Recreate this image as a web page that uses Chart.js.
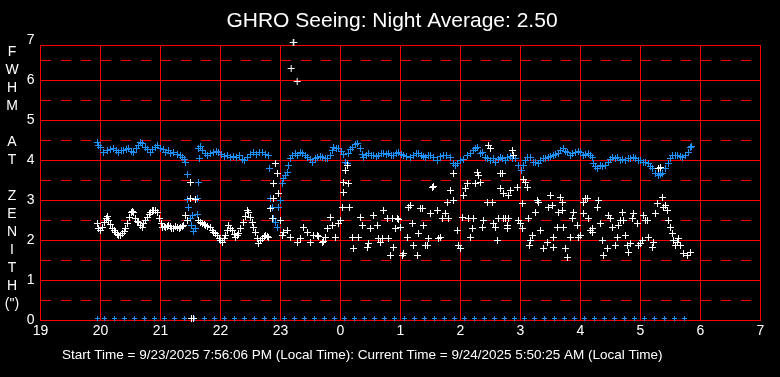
<!DOCTYPE html>
<html><head><meta charset="utf-8">
<script src="https://cdn.jsdelivr.net/npm/chart.js@4"></script>
<style>html,body{margin:0;padding:0;background:#000;overflow:hidden}</style>
</head><body>
<canvas id="c" width="780" height="377" style="display:block;width:780px;height:377px"></canvas>
<script>
const TITLE = 'GHRO Seeing: Night Average: 2.50';
const FOOTER = 'Start Time = 9/23/2025 7:56:06 PM (Local Time): Current Time = 9/24/2025 5:50:25 AM (Local Time)';
const yAxisLetters = ['F','W','H','M','','A','T','','Z','E','N','I','T','H','(")'];
const hourTicks = [19,20,21,22,23,0,1,2,3,4,5,6,7];
const yTicks = [0,1,2,3,4,5,6,7];
const yHalfTicks = [0.5,1.5,2.5,3.5,4.5,5.5,6.5];

// [minutes after 19:00, FWHM arcsec]
const whiteSeeing = [[57,2.42],[58,2.3],[60,2.25],[62,2.33],[64,2.45],[66,2.55],[67,2.6],[68,2.5],[70,2.4],[72,2.3],[74,2.25],[75,2.2],[77,2.15],[78,2.13],[80,2.12],[82,2.17],[84,2.22],[85,2.3],[87,2.42],[89,2.58],[91,2.7],[92,2.73],[93,2.7],[95,2.55],[97,2.48],[98,2.45],[100,2.38],[102,2.33],[103,2.42],[105,2.5],[107,2.58],[109,2.66],[110,2.7],[112,2.74],[113,2.75],[115,2.74],[117,2.7],[119,2.55],[121,2.42],[122,2.33],[124,2.35],[125,2.33],[127,2.36],[128,2.37],[130,2.35],[131,2.3],[133,2.3],[135,2.35],[137,2.33],[139,2.3],[140,2.33],[142,2.36],[143,2.37],[145,2.63],[147,2.5],[150,3.04],[150,3.45],[151,0.05],[153,0.05],[155,3.02],[158,2.5],[160,2.45],[162,2.42],[164,2.4],[165,2.37],[167,2.36],[170,2.33],[172,2.25],[173,2.2],[175,2.17],[177,2.13],[179,2.05],[180,2.0],[182,1.96],[184,2.05],[185,2.13],[187,2.25],[188,2.37],[190,2.3],[192,2.25],[194,2.15],[195,2.08],[197,2.12],[198,2.17],[200,2.3],[203,2.45],[205,2.6],[207,2.75],[208,2.7],[210,2.58],[212,2.45],[213,2.33],[215,2.2],[217,2.05],[218,1.92],[220,2.0],[222,2.04],[224,2.1],[225,2.13],[227,2.1],[228,2.08],
[230,2.8],[232,2.55],[233,3.04],[233,3.42],[235,3.92],[237,3.67],[238,3.17],[240,2.5],[242,2.13],[243,2.2],[247,2.25],[250,2.08],[250.7,6.31],[252.7,6.94],[253.3,6.94],[256.7,5.97],[257,1.96],[260,2.04],[263,2.33],[267,2.2],[270,1.96],[273,2.13],[277,2.13],[278,2.1],[282,1.96],[283,1.98],[285,2.08],[287,2.3],[290,2.58],[292,2.37],[295,2.08],[298,2.42],[300,2.5],[302,2.83],[303,3.45],[303,3.2],[305,3.75],[307,3.88],[308,3.42],[309,2.83],[312,2.08],[313,1.79],[318,2.08],[320,2.58],[322,2.37],[327,1.83],[328,1.92],[330,2.3],[333,2.63],[337,2.37],[338,2.04],[340,1.96],[342,2.04],[343,2.75],[347,2.55],[348,2.04],
[350,1.63],[352,2.55],[353,1.83],[355,2.3],[357,2.55],[358,2.53],[360,2.33],[362,1.63],[363,1.67],[367,2.08],[368,2.83],[370,2.88],[372,2.42],[373,1.88],[377,1.63],[378,2.17],[380,2.8],[382,2.8],[383,2.37],[385,1.88],[387,1.88],[388,2.04],[390,2.67],[392,3.33],[393,3.35],[397,2.75],[398,2.04],[400,2.08],[402,2.55],[405,2.67],[407,2.96],[408,2.55],[410,3.25],[413,3.67],[413,3.0],[417,2.25],[418,1.88],[420,1.79],[422,2.58],[423,3.13],[425,3.29],[427,3.42],[428,2.55],[430,2.08],[432,2.3],[433,2.55],[435,3.42],[437,3.71],[438,3.63],[440,3.46],[442,2.33],[443,2.5],[447,2.96],[448,4.38],[450,4.29],[452,2.96],[453,2.42],[455,2.33],[457,2.0],[458,2.55],[460,3.67],[460,3.29],[462,3.67],[463,2.55],[463,3.17],[465,2.55],[467,2.37],[467,2.3],[468,3.13],[468,2.55],[470,3.25],[472,4.25],[473,4.13],[477,3.33],[478,2.5],[480,2.42],[482,2.92],[482,2.3],[483,3.52],[485,3.46],[487,3.33],[488,2.55],[489,1.88],[490,2.0],[492,2.13],[495,2.7],[497,3.0],[498,2.96],[500,2.25],[503,1.79],[507,1.96],[508,2.83],[510,3.13],[512,2.88],[513,2.08],[513,1.83],[517,2.33],[518,2.7],[520,3.08],[522,2.96],[522,2.75],[523,2.33],[525,1.79],[527,1.58],[530,2.08],[532,2.55],[533,2.7],[537,2.37],[538,2.08],[540,2.13],[543,2.96],[545,3.04],[547,3.04],[543,2.67],[548,2.55],[550,2.25],[552,2.3],[552,2.2],[557,2.83],[558,3.0],[560,2.42],[562,2.0],[563,1.63],[567,1.79],[568,2.63],[570,2.55],[572,2.33],[575,1.88],[577,2.08],[578,2.37],[580,2.5],[582,2.7],[583,2.5],[585,2.13],[587,1.88],[588,1.71],[590,1.92],[592,2.55],[593,2.67],[597,2.42],[598,1.88],[600,1.92],[602,2.0],[603,2.63],[605,2.5],[607,2.5],[608,2.08],[612,1.83],[613,1.96],[615,2.67],[617,2.92],[618,3.79],[620,3.83],[622,3.08],[623,2.83],[625,2.88],[627,2.75],[628,2.5],[630,2.33],[632,2.17],[633,2.0],[635,1.88],[637,1.96],[638,2.04],[640,1.88],[643,1.67],[647,1.63],[650,1.71]];

const blueSeeing = [[57,4.46],[58,4.38],[60,4.33],[63,4.21],[67,4.25],[70,4.28],[73,4.29],[76,4.25],[78,4.21],[81,4.26],[83,4.25],[86,4.28],[88,4.29],[91,4.22],[93,4.2],[96,4.3],[98,4.38],[100,4.46],[102,4.42],[105,4.33],[107,4.27],[110,4.21],[112,4.27],[115,4.33],[117,4.37],[120,4.31],[123,4.28],[125,4.21],[128,4.24],[130,4.18],[133,4.2],[137,4.15],[140,4.12],[142,4.08],[144,4.02],[145,3.96],
[147,3.64],[147,3.02],[148,2.83],[150,2.55],[151,2.37],[152,2.63],[153,2.22],[155,2.3],[157,2.65],[157,3.04],[158,3.45],
[158,4.29],[159,4.05],[160,4.35],[162,4.25],[165,4.18],[167,4.13],[170,4.17],[173,4.2],[176,4.22],[178,4.2],[181,4.15],[184,4.1],[187,4.12],[190,4.08],[193,4.1],[196,4.07],[199,4.12],[202,4.03],[204,4.0],[207,4.08],[210,4.15],[213,4.2],[216,4.16],[219,4.19],[222,4.2],[225,4.14],[228,4.13],
[229,3.81],[230,3.04],[232,2.83],[233,2.55],[235,2.45],[237,2.33],[238,2.83],[240,3.0],
[242,3.42],[243,3.54],[245,3.62],[247,3.71],[248,3.88],[250,4.04],[252,4.13],[255,4.17],[257,4.13],[260,4.2],[262,4.17],[265,4.12],[267,4.08],[270,4.02],[272,3.96],[275,4.05],[277,4.08],[280,4.1],[282,4.08],[285,4.06],[287,4.04],[290,4.13],[292,4.25],[293,4.33],[296,4.31],[298,4.29],[301,4.22],[303,4.15],[305,3.96],[307,3.92],[308,4.17],[310,4.27],[312,4.33],[315,4.4],[317,4.42],[320,4.29],[322,4.15],[323,4.08],[326,4.13],[328,4.17],[331,4.12],[333,4.13],[336,4.1],[338,4.13],[341,4.17],[343,4.17],[346,4.14],[348,4.17],[351,4.13],[353,4.13],[356,4.18],[358,4.21],[361,4.15],[363,4.13],[366,4.1],[370,4.08],[373,4.12],[376,4.17],[378,4.17],[381,4.12],[383,4.1],[385,4.08],[388,4.13],[390,4.13],[393,4.08],[397,4.0],[400,4.1],[403,4.13],[406,4.12],[410,4.08],[413,3.92],[415,3.88],[417,3.92],[420,4.0],[423,4.03],[427,4.13],[430,4.17],[433,4.25],[435,4.3],[437,4.33],[440,4.17],[442,4.21],[445,4.08],[447,4.04],[450,4.0],[453,4.04],[455,3.96],[458,4.02],[460,4.08],[462,4.05],[465,4.0],[467,4.08],[470,4.1],[472,4.06],[475,4.04],[478,3.88],[481,3.75],[483,3.88],[485,4.0],[487,4.08],[490,4.08],[493,3.96],[495,3.94],[498,3.92],[500,4.0],[503,4.04],[505,4.05],[508,4.08],[510,4.1],[513,4.13],[515,4.15],[518,4.17],[520,4.25],[523,4.29],[525,4.22],[527,4.21],[530,4.13],[532,4.18],[535,4.21],[538,4.23],[540,4.2],[543,4.13],[545,4.15],[548,4.17],[550,4.12],[552,4.08],[553,3.92],[555,3.85],[557,3.79],[560,3.88],[562,3.86],[565,3.88],[568,3.96],[570,4.02],[572,4.08],[575,4.06],[577,4.08],[580,4.0],[582,4.03],[585,4.0],[588,4.05],[590,4.04],[593,4.08],[595,4.05],[598,4.0],[600,4.0],[603,3.96],[605,3.95],[608,3.92],[610,3.85],[612,3.79],[615,3.67],[618,3.63],[620,3.65],[622,3.67],[625,3.79],[628,3.92],[630,4.05],[632,4.13],[635,4.13],[637,4.13],[640,4.1],[642,4.08],[645,4.13],[648,4.21],[650,4.33],[651,4.35]];

const zeroMarkMinutes = [57,64,74,84,94,104,114,124,134,144,154,164,174,184,194,204,214,224,234,244,254,264,274,284,294,304,314,324,334,344,354,364,374,384,394,404,414,424,434,444,454,464,474,484,494,504,514,524,534,544,554,564,574,584,594,604,614,624,634,644];
const zeroMarkValue = 0.05;

const FONT = '"Liberation Sans", Arial, sans-serif';
const RED = '#ff0000';
const BLUE = '#1e90ff';
// snap a reading to the 1-pixel resolution of the original plot (1/40 of an arcsec)
const snap = v => Math.round(v * 40) / 40;

const textPlugin = {
  id: 'texts',
  beforeDraw(chart) {
    const c = chart.ctx; c.save(); c.fillStyle = '#000'; c.fillRect(0, 0, chart.width, chart.height); c.restore();
  },
  afterDraw(chart) {
    const c = chart.ctx; c.save(); c.fillStyle = '#fff'; c.textBaseline = 'middle';
    c.font = '21px ' + FONT; c.textAlign = 'center';
    c.fillText(TITLE, 392, 21);
    c.font = '13.5px ' + FONT; c.textAlign = 'left';
    c.fillText(FOOTER, 62, 355);
    c.font = '14px ' + FONT; c.textAlign = 'center';
    yAxisLetters.forEach((t, i) => c.fillText(t, 12, 52 + i * 18));
    c.restore();
  }
};

new Chart(document.getElementById('c'), {
  type: 'scatter',
  data: {
    datasets: [
      { data: whiteSeeing.map(p => ({x: p[0], y: snap(p[1])})), pointStyle: 'cross', radius: 3.5, borderColor: '#fff', backgroundColor: '#fff', borderWidth: 1, clip: false },
      { data: blueSeeing.map(p => ({x: p[0], y: snap(p[1])})), pointStyle: 'cross', radius: 3.5, borderColor: BLUE, backgroundColor: BLUE, borderWidth: 1, clip: false },
      { data: zeroMarkMinutes.map(m => ({x: m, y: zeroMarkValue})), pointStyle: 'cross', radius: 2.5, borderColor: BLUE, backgroundColor: BLUE, borderWidth: 1, clip: false }
    ]
  },
  options: {
    responsive: false, animation: false, devicePixelRatio: 1,
    layout: { padding: { top: 45.5, right: 19.5, left: 0, bottom: 0 } },
    plugins: { legend: { display: false }, tooltip: { enabled: false }, title: { display: false } },
    scales: {
      x: {
        type: 'linear', position: 'bottom', min: 0, max: 720,
        afterFit(s) { s.height = 56.5; },
        ticks: { stepSize: 60, color: '#fff', font: { size: 14, family: FONT }, padding: 2, maxRotation: 0, autoSkip: false, callback: (v, i) => String(hourTicks[i]) },
        grid: { color: RED, lineWidth: 1, drawTicks: false },
        border: { color: RED }
      },
      xTop: {
        type: 'linear', position: 'top', min: 0, max: 720,
        afterFit(s) { s.height = 0; },
        ticks: { display: false }, grid: { display: false, drawTicks: false }, border: { display: true, color: RED }
      },
      y: {
        type: 'linear', position: 'left', min: 0, max: 6.875,
        afterFit(s) { s.width = 40.5; },
        afterBuildTicks(s) { s.ticks = yTicks.map(v => ({ value: v })); },
        ticks: { color: '#fff', padding: 6, font: { size: 14, family: FONT }, callback: v => String(v) },
        grid: { drawTicks: false, lineWidth: 1, color: ctx => (ctx.tick && ctx.tick.value > 6.9) ? 'rgba(0,0,0,0)' : RED },
        border: { color: RED }
      },
      yHalf: {
        type: 'linear', position: 'left', min: 0, max: 6.875,
        afterFit(s) { s.width = 0; },
        afterBuildTicks(s) { s.ticks = yHalfTicks.map(v => ({ value: v })); },
        ticks: { display: false },
        grid: { drawTicks: false, lineWidth: 1, color: RED },
        border: { display: false, dash: [10, 10] }
      }
    }
  },
  plugins: [textPlugin]
});
</script>
</body></html>
